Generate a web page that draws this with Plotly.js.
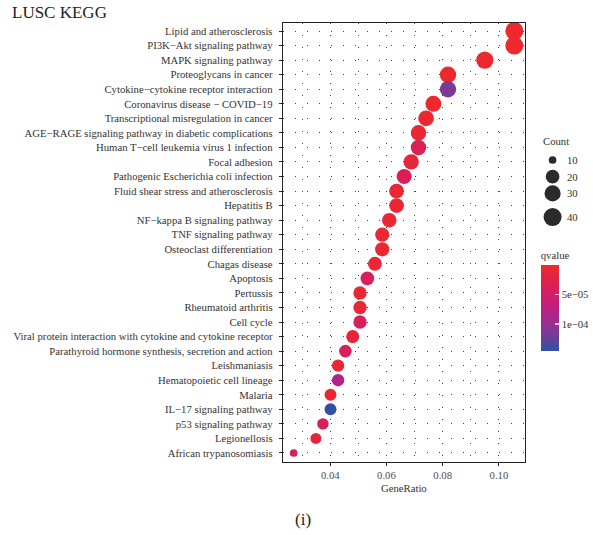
<!DOCTYPE html>
<html>
<head>
<meta charset="utf-8">
<script src="https://cdn.plot.ly/plotly-3.0.1.min.js"></script>
<style>
  html, body { margin: 0; padding: 0; background: #ffffff; }
  #chart { width: 593px; height: 535px; }
</style>
</head>
<body>
<div id="chart"></div>
<script>
// ---- data ----
const pathways = [
  "Lipid and atherosclerosis",
  "PI3K−Akt signaling pathway",
  "MAPK signaling pathway",
  "Proteoglycans in cancer",
  "Cytokine−cytokine receptor interaction",
  "Coronavirus disease − COVID−19",
  "Transcriptional misregulation in cancer",
  "AGE−RAGE signaling pathway in diabetic complications",
  "Human T−cell leukemia virus 1 infection",
  "Focal adhesion",
  "Pathogenic Escherichia coli infection",
  "Fluid shear stress and atherosclerosis",
  "Hepatitis B",
  "NF−kappa B signaling pathway",
  "TNF signaling pathway",
  "Osteoclast differentiation",
  "Chagas disease",
  "Apoptosis",
  "Pertussis",
  "Rheumatoid arthritis",
  "Cell cycle",
  "Viral protein interaction with cytokine and cytokine receptor",
  "Parathyroid hormone synthesis, secretion and action",
  "Leishmaniasis",
  "Hematopoietic cell lineage",
  "Malaria",
  "IL−17 signaling pathway",
  "p53 signaling pathway",
  "Legionellosis",
  "African trypanosomiasis"
];
const geneRatio = [
  0.1055, 0.1055, 0.0950, 0.0819, 0.0819, 0.0767, 0.0741, 0.0714, 0.0714, 0.0688,
  0.0663, 0.0636, 0.0636, 0.0610, 0.0585, 0.0585, 0.0559, 0.0532, 0.0506, 0.0506,
  0.0506, 0.0480, 0.0454, 0.0428, 0.0428, 0.0401, 0.0401, 0.0374, 0.0349, 0.0270
];
const counts = [
  40, 40, 36, 31, 31, 29, 28, 27, 27, 26,
  25, 24, 24, 23, 22, 22, 21, 20, 19, 19,
  19, 18, 17, 16, 16, 15, 15, 14, 13, 10
];
const qvalue = [
  2e-6, 2e-6, 3e-6, 3e-6, 1.15e-4, 4e-6, 5e-6, 6e-6, 3.2e-5, 1.2e-5,
  3.5e-5, 6e-6, 7e-6, 8e-6, 6e-6, 7e-6, 9e-6, 3.8e-5, 7e-6, 8e-6,
  3.8e-5, 1.2e-5, 4.0e-5, 9e-6, 8.2e-5, 1.0e-5, 1.45e-4, 3.8e-5, 1.6e-5, 3.8e-5
];
const sizeLegendCounts = [10, 20, 30, 40];
const qTickVals = [5e-5, 1e-4];
const qTickText = ["5e−05", "1e−04"];

// ---- scales / layout constants ----
const W = 593, H = 535;
const ML = 283, MT = 23, MB = 73;
const plotRight = 529;
const paperW = W - ML, paperH = H - MT - MB;
const px2x = px => (px - ML) / paperW;
const py2y = py => (H - MB - py) / paperH;

const cMin = 10, cMax = 40;
const sizeOf = c => 2.2 * (3.5 + 4.7 * Math.sqrt((c - cMin) / (cMax - cMin)));
const qMax = 1.46e-4;
const colorscale = [
  [0.00, "#2E52A3"],
  [0.25, "#8A3494"],
  [0.50, "#BE1E82"],
  [0.75, "#DA1F58"],
  [1.00, "#EE2A2A"]
];
const FONT = "Liberation Serif, Times New Roman, serif";
const gridDash = "1px,11px";
const LBL = 10.7;

const main = {
  type: "scatter",
  mode: "markers",
  x: geneRatio,
  y: pathways,
  xaxis: "x",
  yaxis: "y",
  marker: {
    size: counts.map(sizeOf),
    sizemode: "diameter",
    color: qvalue.map(q => -q),
    cmin: -qMax,
    cmax: 0,
    colorscale: colorscale,
    line: { width: 0 },
    opacity: 1,
    colorbar: {
      x: px2x(545), xanchor: "left",
      y: py2y(351), yanchor: "bottom",
      thickness: 18, thicknessmode: "pixels",
      len: 103, lenmode: "pixels",
      outlinewidth: 0,
      ticks: "inside", ticklen: 4, tickcolor: "#f4c6d8", tickwidth: 1.5,
      tickvals: qTickVals.map(v => -v),
      ticktext: qTickText,
      tickfont: { family: FONT, size: LBL, color: "#333" },
      title: { text: "qvalue", side: "top", font: { family: FONT, size: LBL, color: "#333" } },
      xpad: 0, ypad: 0
    }
  },
  showlegend: false,
  hoverinfo: "x+y"
};

// size legend drawn on a helper axis
const legendY0 = 160;
const legendGaps = [0, 16.7, 16.7, 23.7];
const legendYs = [];
sizeLegendCounts.forEach((c, i) => legendYs.push(i === 0 ? legendY0 : legendYs[i - 1] + legendGaps[i]));

const sizeLegend = {
  type: "scatter",
  mode: "markers",
  x: sizeLegendCounts.map(() => 557),
  y: legendYs,
  xaxis: "x2",
  yaxis: "y2",
  marker: { size: sizeLegendCounts.map(sizeOf), sizemode: "diameter", color: "#2b2b2b", opacity: 1, line: { width: 0 } },
  showlegend: false,
  hoverinfo: "skip"
};

const annotations = [
  { text: "Count", xref: "paper", yref: "paper", x: px2x(545), y: py2y(141),
    xanchor: "left", yanchor: "middle", showarrow: false,
    font: { family: FONT, size: LBL, color: "#333" } },
  { text: "(i)", xref: "paper", yref: "paper", x: px2x(303), y: py2y(519),
    xanchor: "center", yanchor: "middle", showarrow: false,
    font: { family: FONT, size: 17, color: "#222" } },
  { text: "GeneRatio", xref: "paper", yref: "paper", x: px2x(406), y: py2y(488),
    xanchor: "center", yanchor: "middle", showarrow: false,
    font: { family: FONT, size: LBL, color: "#333" } }
];
sizeLegendCounts.forEach((c, i) => annotations.push({
  text: String(c), xref: "paper", yref: "paper", x: px2x(570), y: py2y(legendYs[i]),
  xanchor: "left", yanchor: "middle", showarrow: false,
  font: { family: FONT, size: LBL, color: "#333" }
}));

const n = pathways.length;
const layout = {
  width: W, height: H,
  margin: { l: ML, r: 0, t: MT, b: MB, pad: 0 },
  paper_bgcolor: "#ffffff",
  plot_bgcolor: "#ffffff",
  font: { family: FONT, size: LBL, color: "#333" },
  title: {
    text: "LUSC KEGG",
    x: 12 / W, xanchor: "left", xref: "container",
    y: 1 - 12 / H, yanchor: "middle", yref: "container",
    font: { family: FONT, size: 17, color: "#222" }
  },
  xaxis: {
    domain: [0, px2x(plotRight)],
    range: [0.0232, 0.1093],
    tick0: 0, dtick: 0.02,
    tickformat: ".2f",
    ticks: "outside", ticklen: 3, tickcolor: "#222", tickwidth: 1,
    showline: true, mirror: true, linecolor: "#222", linewidth: 1.3,
    showgrid: true, gridcolor: "#444", gridwidth: 1, griddash: gridDash,
    minor: { dtick: 0.01, showgrid: true, gridcolor: "#444", gridwidth: 1, griddash: gridDash },
    zeroline: false,
    tickfont: { family: FONT, size: LBL, color: "#4d4d4d" }
  },
  yaxis: {
    type: "category",
    categoryorder: "array",
    categoryarray: pathways,
    range: [n - 1 + 0.62, -0.55],
    ticks: "outside", ticklen: 3, tickcolor: "#222", tickwidth: 1,
    ticklabelstandoff: 4,
    showline: true, mirror: true, linecolor: "#222", linewidth: 1.3,
    showgrid: true, gridcolor: "#444", gridwidth: 1, griddash: gridDash,
    zeroline: false,
    tickfont: { family: FONT, size: LBL, color: "#333" },
    automargin: false
  },
  xaxis2: {
    domain: [px2x(540), px2x(590)],
    range: [540, 590],
    visible: false, fixedrange: true,
    anchor: "y2"
  },
  yaxis2: {
    domain: [py2y(235), py2y(150)],
    range: [235, 150],
    visible: false, fixedrange: true,
    anchor: "x2"
  },
  annotations: annotations,
  showlegend: false
};

Plotly.newPlot("chart", [main, sizeLegend], layout, { displayModeBar: false, staticPlot: true });
</script>
</body>
</html>
